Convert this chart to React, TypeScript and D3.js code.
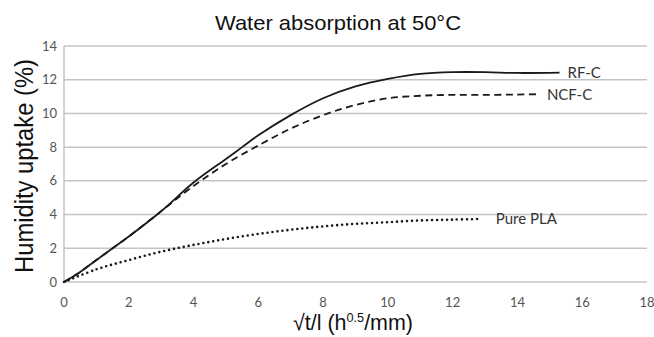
import React, { useEffect, useRef } from 'react';
import * as d3 from 'd3';

// x values (sqrt(t)/l) and humidity uptake (%)
const rfX = [0, 0.5, 1, 1.5, 2, 3, 4, 5, 5.5, 6, 7, 8, 9, 10, 11, 12, 13, 14, 15.3];
const rfY = [0, 0.6, 1.3, 2.0, 2.7, 4.2, 5.9, 7.3, 8.0, 8.7, 9.9, 10.9, 11.6, 12.05, 12.35, 12.45, 12.45, 12.4, 12.42];

const ncfX = [0, 0.5, 1, 1.5, 2, 3, 4, 5, 6, 7, 8, 9, 10, 11, 12, 13, 14, 14.6];
const ncfY = [0, 0.6, 1.3, 2.0, 2.7, 4.2, 5.7, 7.0, 8.1, 9.1, 9.9, 10.5, 10.9, 11.05, 11.1, 11.1, 11.12, 11.14];

const plaX = [0, 1, 2, 3, 4, 5, 6, 7, 8, 9, 10, 11, 12, 12.9];
const plaY = [0, 0.75, 1.3, 1.8, 2.2, 2.55, 2.85, 3.1, 3.3, 3.45, 3.55, 3.65, 3.7, 3.74];

const seriesNames = ['RF-C', 'NCF-C', 'Pure PLA'];
const xTicks = [0, 2, 4, 6, 8, 10, 12, 14, 16, 18];
const yTicks = [0, 2, 4, 6, 8, 10, 12, 14];

const W = 654;
const H = 337;

const App = () => {
  const svgRef = useRef<SVGSVGElement>(null);

  useEffect(() => {
    const margin = { top: 46, right: 7, bottom: 55, left: 64 };
    const width = W - margin.left - margin.right;
    const height = H - margin.top - margin.bottom;

    const root = d3.select(svgRef.current);
    root.selectAll('*').remove();

    const svg = root.append('g').attr('transform', `translate(${margin.left},${margin.top})`);

    const x = d3.scaleLinear().domain([0, 18]).range([0, width]);
    const y = d3.scaleLinear().domain([0, 14]).range([height, 0]);

    // gridlines
    svg.append('g')
      .selectAll('line')
      .data(yTicks)
      .enter()
      .append('line')
      .attr('x1', 0)
      .attr('x2', width)
      .attr('y1', d => y(d))
      .attr('y2', d => y(d))
      .attr('stroke', '#c4c4c4')
      .attr('stroke-width', 1.5);

    // y axis line
    svg.append('line')
      .attr('x1', 0).attr('x2', 0)
      .attr('y1', 0).attr('y2', height)
      .attr('stroke', '#c4c4c4')
      .attr('stroke-width', 1.5);

    const tickFont = 'Lato, "Open Sans", sans-serif';
    const labelFont = '"Liberation Sans", Arial, sans-serif';

    svg.append('g')
      .selectAll('text')
      .data(yTicks)
      .enter()
      .append('text')
      .attr('x', -7)
      .attr('y', d => y(d))
      .attr('dy', '0.35em')
      .attr('text-anchor', 'end')
      .attr('fill', '#555')
      .style('font-family', tickFont)
      .style('font-size', '13px')
      .text(d => d);

    svg.append('g')
      .selectAll('text')
      .data(xTicks)
      .enter()
      .append('text')
      .attr('x', d => x(d))
      .attr('y', height + 25)
      .attr('text-anchor', 'middle')
      .attr('fill', '#555')
      .style('font-family', tickFont)
      .style('font-size', '13px')
      .text(d => d);

    const line = d3.line<[number, number]>()
      .x(d => x(d[0]))
      .y(d => y(d[1]))
      .curve(d3.curveCatmullRom.alpha(0.5));

    const series = [
      { name: seriesNames[0], xs: rfX, ys: rfY, dash: null, width: 1.8, cap: 'butt', gap: 8 },
      { name: seriesNames[1], xs: ncfX, ys: ncfY, dash: '7,4.5', width: 1.8, cap: 'butt', gap: 10 },
      { name: seriesNames[2], xs: plaX, ys: plaY, dash: '0,5', width: 2.6, cap: 'round', gap: 14 },
    ];

    series.forEach(s => {
      const pts = s.xs.map((v, i) => [v, s.ys[i]] as [number, number]);
      svg.append('path')
        .datum(pts)
        .attr('d', line)
        .attr('fill', 'none')
        .attr('stroke', '#1a1a1a')
        .attr('stroke-width', s.width)
        .attr('stroke-linecap', s.cap)
        .attr('stroke-dasharray', s.dash);

      const last = pts[pts.length - 1];
      svg.append('text')
        .attr('x', x(last[0]) + s.gap)
        .attr('y', y(last[1]))
        .attr('dy', '0.36em')
        .attr('fill', '#333')
        .style('font-family', tickFont)
        .style('font-size', '15px')
        .text(s.name);
    });

    // title
    root.append('text')
      .attr('x', 338)
      .attr('y', 30)
      .attr('text-anchor', 'middle')
      .attr('fill', '#111')
      .attr('textLength', 246)
      .attr('lengthAdjust', 'spacingAndGlyphs')
      .style('font-family', labelFont)
      .style('font-size', '21px')
      .text('Water absorption at 50°C');

    // y label
    root.append('text')
      .attr('transform', `translate(33,166) rotate(-90)`)
      .attr('text-anchor', 'middle')
      .attr('fill', '#111')
      .attr('textLength', 214)
      .attr('lengthAdjust', 'spacingAndGlyphs')
      .style('font-family', labelFont)
      .style('font-size', '26px')
      .text('Humidity uptake (%)');

    // x label
    const xl = root.append('text')
      .attr('x', 353)
      .attr('y', 330)
      .attr('text-anchor', 'middle')
      .attr('fill', '#111')
      .attr('textLength', 120)
      .attr('lengthAdjust', 'spacingAndGlyphs')
      .style('font-family', labelFont)
      .style('font-size', '22px');
    xl.append('tspan').text('√t/l (h');
    xl.append('tspan').attr('dy', -8).style('font-size', '13px').text('0.5');
    xl.append('tspan').attr('dy', 8).text('/mm)');
  }, []);

  return (
    <svg
      ref={svgRef}
      width={W}
      height={H}
      style={{ position: 'absolute', left: 0, top: 0, background: '#fff' }}
    />
  );
};

export default App;
